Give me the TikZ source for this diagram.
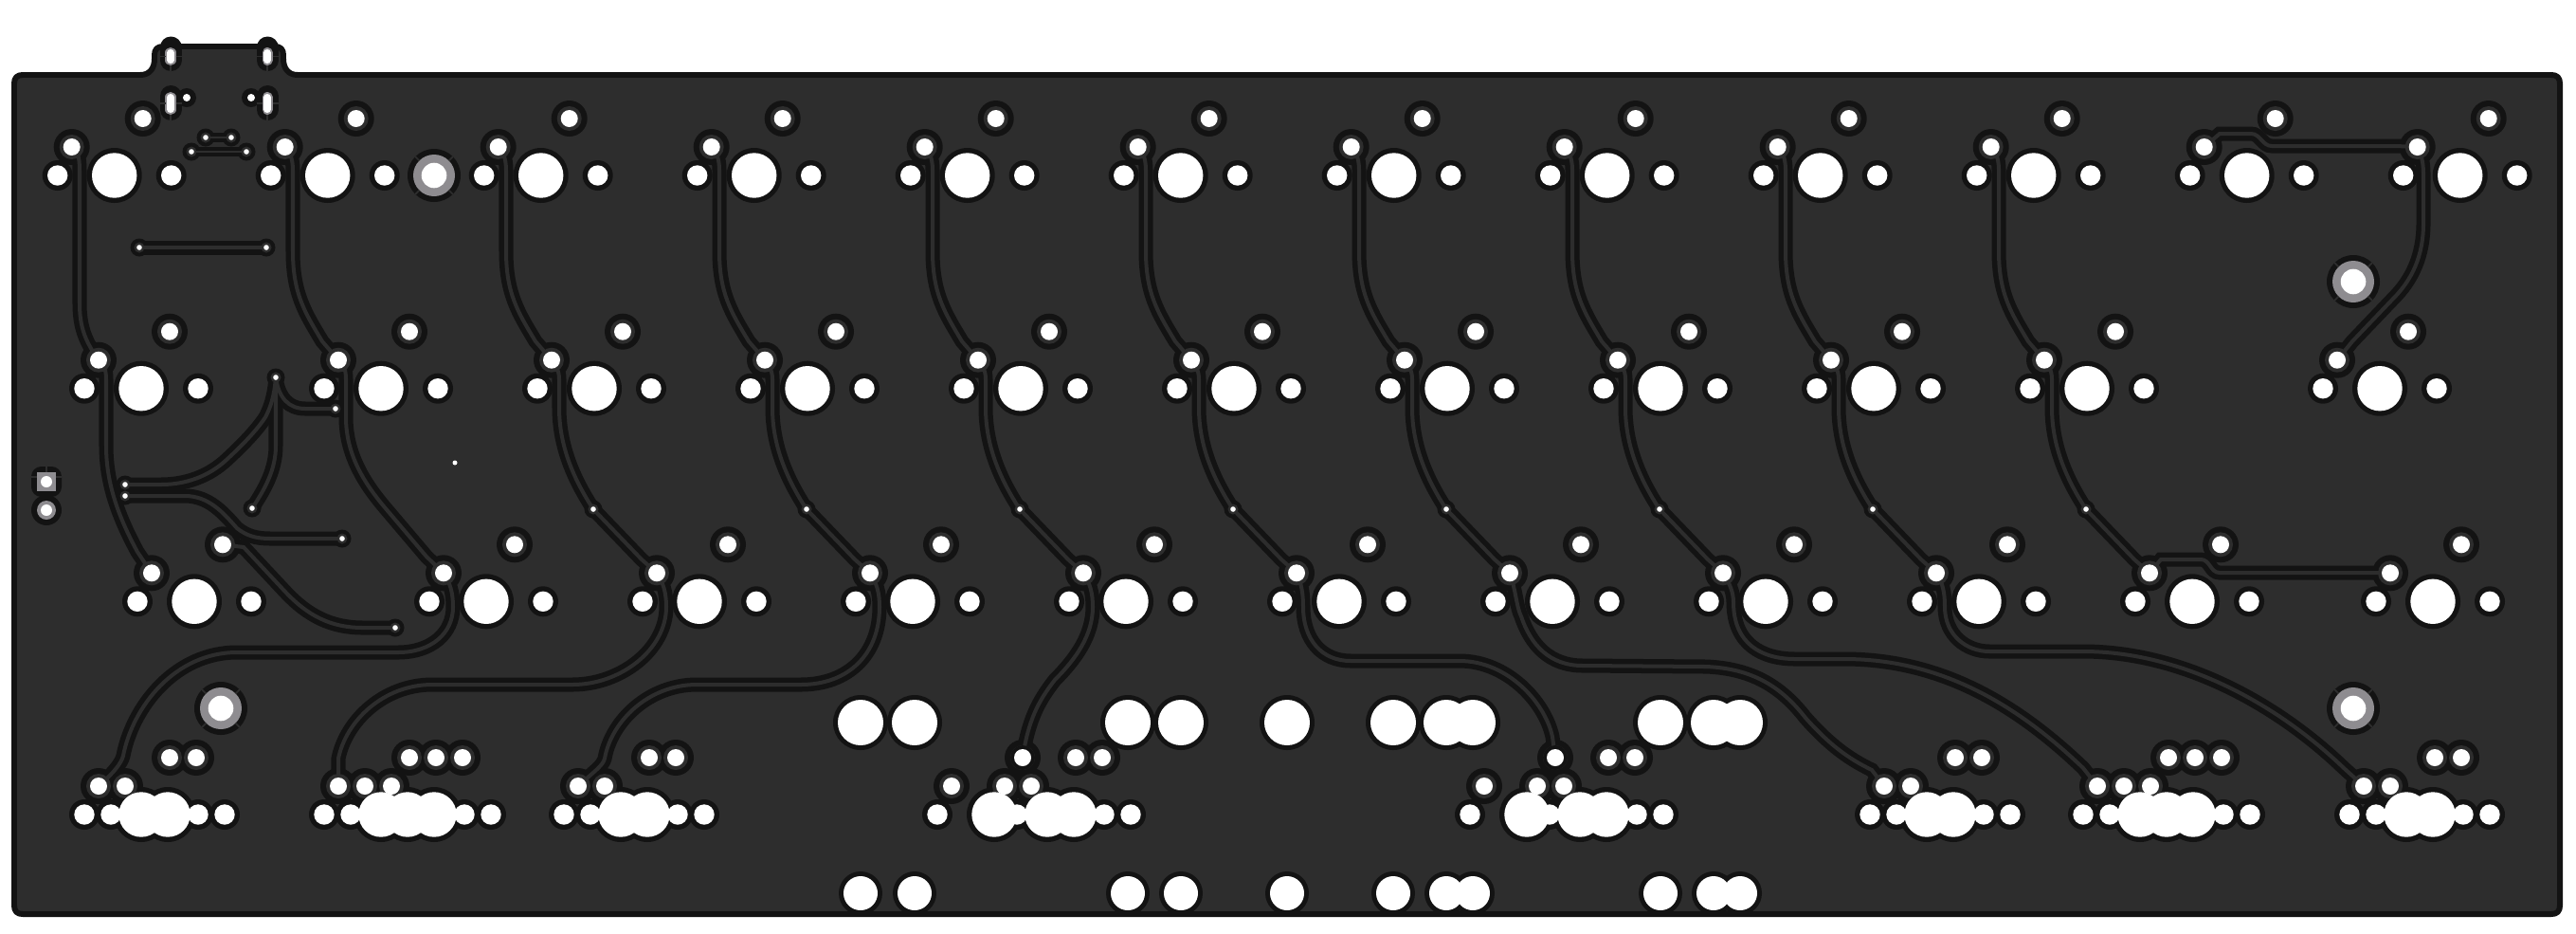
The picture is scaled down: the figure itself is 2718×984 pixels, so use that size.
\documentclass[tikz,border=0pt]{standalone}
\usepackage{xcolor}
\usepackage{tikz}
\usetikzlibrary{arrows.meta,positioning}

\definecolor{pcbboard}{HTML}{2D2D2D}
\definecolor{pcbdark}{HTML}{131313}
\definecolor{pcbgrey}{HTML}{8E8C90}

\pgfdeclarelayer{board}
\pgfdeclarelayer{clear}
\pgfdeclarelayer{copper}
\pgfsetlayers{board,clear,copper,main}

% Switch columns ---------------------------------------------------------
\newcommand{\rowAx}{120.7,345.7,570.7,795.7,1020.7,1245.7,1470.7,1695.7,1920.7,2145.7,2370.7,2595.7}
\newcommand{\rowBx}{149,402,627,852,1077,1302,1527,1752,1977,2202,2511}
\newcommand{\rowCx}{205,513,738,963,1188,1413,1638,1863,2088,2313,2567}
\newcommand{\rowDx}{149,177,402,430,458,655,683,1049,1105,1133,1611,1667,1695,2033,2061,2258,2286,2314,2539,2567}
\newcommand{\stabx}{908,965,1190,1246,1358,1470,1526,1554,1752,1808,1836}

% one switch footprint: name, x, y
\newcommand{\keyswitch}[3]{
	\coordinate (h#1) at (#2,#3);
	\coordinate (p#1) at (#2-45,#3-30);
	\coordinate (q#1) at (#2+30,#3-60);
	\begin{pgfonlayer}{clear}
		\fill[pcbdark] (h#1) circle[radius=29] (#2-60,#3) circle[radius=16] (#2+60,#3) circle[radius=16]
			(p#1) circle[radius=19] (q#1) circle[radius=19];
	\end{pgfonlayer}
	\begin{pgfonlayer}{copper}
		\fill[pcbboard] (p#1) circle[radius=13] (q#1) circle[radius=13];
	\end{pgfonlayer}
	\fill[white] (h#1) circle[radius=23.7] (#2-60,#3) circle[radius=10.7] (#2+60,#3) circle[radius=10.7]
		(p#1) circle[radius=9] (q#1) circle[radius=9];
}
% plated hole with four spokes
\newcommand{\screwhole}[3]{
	\coordinate (#1) at (#2,#3);
	\begin{pgfonlayer}{clear}
		\fill[pcbdark] (#1) circle[radius=28];
	\end{pgfonlayer}
	\begin{pgfonlayer}{copper}
		\fill[pcbgrey] (#1) circle[radius=22];
		\foreach \a in {45,135,225,315}
			\draw[spoke] (#1) ++(\a:22) -- ++(\a:6);
	\end{pgfonlayer}
	\fill[white] (#1) circle[radius=13.3];
}
% small via: name, x, y
\newcommand{\viahole}[3]{
	\coordinate (#1) at (#2,#3);
	\begin{pgfonlayer}{clear}
		\fill[pcbdark] (#1) circle[radius=9.5];
	\end{pgfonlayer}
	\begin{pgfonlayer}{copper}
		\fill[pcbboard] (#1) circle[radius=5.5];
	\end{pgfonlayer}
	\fill[white] (#1) circle[radius=2.8];
}
% USB slot: x, top y, bottom y, top y of the clearance
\newcommand{\usbslot}[4]{
	\begin{pgfonlayer}{clear}
		\draw[slotclear] (#1,#4) -- (#1,#3);
	\end{pgfonlayer}
	\begin{pgfonlayer}{copper}
		\draw[slotring] (#1,#2) -- (#1,#3);
		\draw[spoke] (#1-11.5,#2/2+#3/2) -- (#1-5.5,#2/2+#3/2);
		\draw[spoke] (#1+5.5,#2/2+#3/2) -- (#1+11.5,#2/2+#3/2);
		\draw[spoke] (#1,#3+5.5) -- (#1,#3+11.5);
	\end{pgfonlayer}
	\draw[slothole] (#1,#2) -- (#1,#3);
}
% all tracks, drawn once for the clearance and once for the copper
\newcommand{\tracks}[2]{
	% Row A to row B -----------------------------------------------------
	\path[#1] (pa0) .. controls (82,160) and (84,165) .. (84,180) -- (84,320) .. controls (84,345) and (90,360) .. (pb0);
	\foreach \k in {1,...,9}
		\path[#1] (pa\k) .. controls (\k*225+80,160) and (\k*225+84,165) .. (\k*225+84,180) -- (\k*225+84,265)
			.. controls (\k*225+84,310) and (\k*225+97,330) .. (\k*225+115,360) -- (pb\k);
	\path[#1] (pa10) -- (2342,141) -- (2375,141) .. controls (2385,141) and (2387,154) .. (2397,154) -- (2528,154) -- (pa11);
	\path[#1] (pa11) .. controls (2555,165) and (2557,170) .. (2557,185) -- (2557,235)
		.. controls (2557,270) and (2545,295) .. (2525,315) -- (2482,360) -- (pb10);
	% Row B to row C -----------------------------------------------------
	\path[#1] (pb0) .. controls (110,385) and (112,390) .. (112,400) -- (112,470) .. controls (112,510) and (125,545) .. (145,582) -- (pc0);
	\path[#1] (pb1) .. controls (363,385) and (365,390) .. (365,400) -- (365,440) .. controls (365,480) and (385,510) .. (405,534) -- (450,587) -- (pc1);
	\foreach \k in {2,...,9} {
		\path[#1] (pb\k) .. controls (\k*225+136,385) and (\k*225+140,390) .. (\k*225+140,400) -- (\k*225+140,430)
			.. controls (\k*225+140,470) and (\k*225+155,505) .. (v\k);
		\path[#1] (v\k) -- (\k*225+227,590) -- (pc\k);
	}
	% Row C to row D -----------------------------------------------------
	\path[#1] (pc1) .. controls (475,615) and (478,625) .. (478,640) .. controls (478,668) and (455,688) .. (420,688) -- (250,688)
		.. controls (185,688) and (140,745) .. (130,797) .. controls (128,805) and (120,815) .. (pd1);
	\path[#1] (pc2) .. controls (700,615) and (703,625) .. (703,640) .. controls (703,685) and (655,722) .. (604,722) -- (456,722)
		.. controls (405,722) and (365,760) .. (357,800) -- (pd3);
	\path[#1] (pc3) .. controls (925,615) and (928,625) .. (928,640) .. controls (928,690) and (895,722) .. (845,722) -- (735,722)
		.. controls (685,722) and (645,760) .. (638,800) .. controls (636,808) and (625,815) .. (pd6);
	\path[#1] (pc4) .. controls (1150,615) and (1153,625) .. (1153,640) .. controls (1153,670) and (1135,695) .. (1113,717)
		.. controls (1095,740) and (1085,760) .. (qd8);
	\path[#1] (pc5) .. controls (1373,615) and (1375,625) .. (1375,640) .. controls (1375,675) and (1395,697) .. (1425,697) -- (1540,697)
		.. controls (1590,697) and (1630,740) .. (1638,777) -- (qd11);
	\path[#1] (pc6) .. controls (1600,625) and (1600,640) .. (1605,650) .. controls (1615,680) and (1635,702) .. (1670,702) -- (1800,703)
		.. controls (1850,705) and (1880,725) .. (1905,757) .. controls (1930,785) and (1950,800) .. (1975,812) -- (pd14);
	\path[#1] (pc7) .. controls (1825,615) and (1829,625) .. (1829,635) .. controls (1829,680) and (1860,695) .. (1894,695) -- (1946,695)
		.. controls (2050,695) and (2130,745) .. (2198,810) -- (pd16);
	\path[#1] (pc8) .. controls (2050,615) and (2052,625) .. (2052,640) .. controls (2052,670) and (2075,687) .. (2099,687) -- (2198,687)
		.. controls (2300,687) and (2400,740) .. (2473,810) -- (pd19);
	\path[#1] (pc9) -- (2280,590) -- (2322,590) .. controls (2332,590) and (2332,604) .. (2342,604) -- (2503,604) -- (pc10);
	% Connector and underglow fan-out ------------------------------------
	\path[#1] (va) .. controls (290,410) and (288,425) .. (280,440) .. controls (270,455) and (255,470) .. (240,484)
		.. controls (220,503) and (195,511) .. (170,511) -- (vc);
	\path[#1] (va) .. controls (294,420) and (305,431) .. (322,431) -- (vb);
	\path[#1] (va) -- (291,470) .. controls (291,495) and (280,515) .. (ve);
	\path[#1] (vd) -- (195,523) .. controls (220,523) and (235,540) .. (250,557) .. controls (260,565) and (270,568) .. (285,568) -- (vf);
	\path[#1] (qc0) -- (257,577) -- (300,623) .. controls (325,650) and (350,662) .. (383,662) -- (vg);
	\path[#1] (usbc) -- (usbd);
	% USB pair -----------------------------------------------------------
	\path[#2] (usba) -- (usbb);
	\path[#2] (usbe) -- (usbf);
}

\begin{document}
\begin{tikzpicture}[
		x=0.01cm, y=-0.01cm,
		spoke/.style = {draw=pcbboard, line width=0.5pt},
		trackclear/.style = {draw=pcbdark, line width=4.27pt, line cap=round},
		trackcopper/.style = {draw=pcbboard, line width=1.14pt, line cap=round},
		pairclear/.style = {draw=pcbdark, line width=2.6pt},
		paircopper/.style = {draw=pcbboard, line width=0.7pt},
		slotclear/.style = {draw=pcbdark, line width=6.54pt, line cap=round},
		slotring/.style = {draw=pcbgrey, line width=3.13pt, line cap=round},
		slothole/.style = {draw=white, line width=2pt, line cap=round}
		]
		\useasboundingbox (0,0) rectangle (2718,984);
		
		% Board ---------------------------------------------------------
		\begin{pgfonlayer}{board}
			\draw[draw=pcbdark, fill=pcbboard, line width=1.7pt, line join=round]
				(15,88) .. controls (15,82) and (18,79) .. (24,79) -- (148,79)
				.. controls (158,79) and (163,72) .. (163,62) -- (163,58)
				.. controls (163,52) and (166,49) .. (172,49) -- (290,49)
				.. controls (296,49) and (299,52) .. (299,58) -- (299,62)
				.. controls (299,72) and (304,79) .. (314,79) -- (2692,79)
				.. controls (2698,79) and (2701,82) .. (2701,88) -- (2701,955)
				.. controls (2701,961) and (2698,964) .. (2692,964) -- (24,964)
				.. controls (18,964) and (15,961) .. (15,955) -- cycle;
		\end{pgfonlayer}
		
		% Switches ------------------------------------------------------
		\foreach \x [count=\i from 0] in \rowAx {\keyswitch{a\i}{\x}{185}}
		\foreach \x [count=\i from 0] in \rowBx {\keyswitch{b\i}{\x}{409.7}}
		\foreach \x [count=\i from 0] in \rowCx {\keyswitch{c\i}{\x}{634.3}}
		\foreach \x [count=\i from 1] in \rowDx {\keyswitch{d\i}{\x}{859}}
		
		% Stabilizer holes ----------------------------------------------
		\foreach \x in \stabx {
			\begin{pgfonlayer}{clear}
				\fill[pcbdark] (\x,762) circle[radius=29] (\x,942) circle[radius=23];
			\end{pgfonlayer}
			\fill[white] (\x,762) circle[radius=24] (\x,942) circle[radius=18];
		}
		
		% Screw holes ---------------------------------------------------
		\screwhole{scra}{458}{185}
		\screwhole{scrb}{2483}{297}
		\screwhole{scrc}{233}{747}
		\screwhole{scrd}{2483}{747}
		
		% Vias ----------------------------------------------------------
		\foreach \k in {2,...,9} {\viahole{v\k}{\k*225+176}{537}}
		\viahole{va}{291}{398}
		\viahole{vb}{354}{431}
		\viahole{vc}{132}{511}
		\viahole{vd}{132}{523}
		\viahole{ve}{266}{536}
		\viahole{vf}{361}{568}
		\viahole{vg}{417}{662}
		\viahole{usba}{217}{145}
		\viahole{usbb}{244}{145}
		\viahole{usbe}{202}{160}
		\viahole{usbf}{260}{160}
		\viahole{usbc}{147}{261}
		\viahole{usbd}{281}{261}
		\fill[white] (480,488) circle[radius=2.5];
		
		% USB shield slots ----------------------------------------------
		\foreach \x in {180,282} {
			\usbslot{\x}{55.5}{63.5}{50}
			\usbslot{\x}{102.5}{115.5}{101.5}
		}
		\foreach \x/\n in {197/usbg,265/usbh} {
			\coordinate (\n) at (\x,103);
			\begin{pgfonlayer}{clear}
				\fill[pcbdark] (\n) circle[radius=10];
			\end{pgfonlayer}
			\fill[white] (\n) circle[radius=4];
		}
		
		% Side header ---------------------------------------------------
		\coordinate (hdra) at (49,508);
		\coordinate (hdrb) at (49,538);
		\begin{pgfonlayer}{clear}
			\fill[pcbdark, rounded corners=3pt] (33,492) rectangle (65,524);
			\fill[pcbdark] (hdrb) circle[radius=16];
		\end{pgfonlayer}
		\begin{pgfonlayer}{copper}
			\fill[pcbgrey] (39,498) rectangle (59,518);
			\fill[pcbgrey] (hdrb) circle[radius=10];
			\draw[spoke] (49,492) -- (49,498);
			\draw[spoke] (33,503) -- (39,503);
			\draw[spoke] (59,503) -- (65,503);
		\end{pgfonlayer}
		\fill[white] (hdra) circle[radius=6] (hdrb) circle[radius=6];
		
		% Tracks --------------------------------------------------------
		\begin{pgfonlayer}{clear}
			\tracks{trackclear}{pairclear}
		\end{pgfonlayer}
		\begin{pgfonlayer}{copper}
			\tracks{trackcopper}{paircopper}
			% these two pads have no ring
			\fill[pcbdark] (qd8) circle[radius=13] (qd11) circle[radius=13];
		\end{pgfonlayer}
	\end{tikzpicture}
\end{document}
